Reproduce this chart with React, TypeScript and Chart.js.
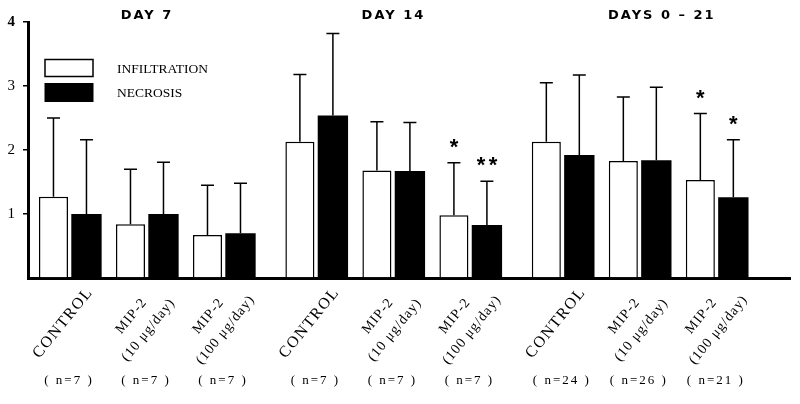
import React, { useEffect, useRef } from 'react';
import { Chart, registerables } from 'chart.js';

Chart.register(...registerables);

// ---------- data ----------
const groupTitles = ['DAY 7', 'DAY 14', 'DAYS 0 – 21'];
const categoryLabels: string[][] = [
  ['CONTROL'], ['MIP-2', '(10 μg/day)'], ['MIP-2', '(100 μg/day)'],
  ['CONTROL'], ['MIP-2', '(10 μg/day)'], ['MIP-2', '(100 μg/day)'],
  ['CONTROL'], ['MIP-2', '(10 μg/day)'], ['MIP-2', '(100 μg/day)'],
];
const nLabels = ['( n=7 )', '( n=7 )', '( n=7 )', '( n=7 )', '( n=7 )', '( n=7 )', '( n=24 )', '( n=26 )', '( n=21 )'];
const seriesLabels = ['INFILTRATION', 'NECROSIS'];
const infiltrationMean = [1.27, 0.84, 0.67, 2.13, 1.68, 0.98, 2.13, 1.83, 1.53];
const infiltrationSD = [1.23, 0.86, 0.78, 1.05, 0.76, 0.82, 0.92, 1.0, 1.04];
const necrosisMean = [1.0, 1.0, 0.7, 2.54, 1.67, 0.83, 1.92, 1.84, 1.26];
const necrosisSD = [1.16, 0.81, 0.78, 1.28, 0.76, 0.68, 1.25, 1.14, 0.9];
const infiltrationSig = ['', '', '', '', '', '*', '', '', '*'];
const necrosisSig = ['', '', '', '', '', '**', '', '', '*'];
const yTickValues = [1, 2, 3, 4];

// ---------- layout constants ----------
const PER_GROUP = 3;
const GROUP_STEP = 3.2;
const TITLE_SHIFT = [0, 0, 22];
const SERIF = '"Liberation Serif", "Times New Roman", serif';
const SANS = '"DejaVu Sans", sans-serif';

const pos = (i: number) => Math.floor(i / PER_GROUP) * GROUP_STEP + (i % PER_GROUP);

const means = [infiltrationMean, necrosisMean];
const sds = [infiltrationSD, necrosisSD];
const sigs = [infiltrationSig, necrosisSig];

const decorPlugin = {
  id: 'decor',
  afterDatasetsDraw(chart: any) {
    const ctx = chart.ctx as CanvasRenderingContext2D;
    const ys = chart.scales.y;
    ctx.save();
    for (let d = 0; d < 2; d++) {
      const meta = chart.getDatasetMeta(d);
      meta.data.forEach((bar: any, i: number) => {
        const top = ys.getPixelForValue(means[d][i] + sds[d][i]);
        ctx.strokeStyle = '#000';
        ctx.lineWidth = 1.5;
        ctx.beginPath();
        ctx.moveTo(bar.x, bar.y);
        ctx.lineTo(bar.x, top);
        ctx.moveTo(bar.x - 6.5, top);
        ctx.lineTo(bar.x + 6.5, top);
        ctx.stroke();
        const s = sigs[d][i];
        if (s) {
          ctx.fillStyle = '#000';
          ctx.font = `bold 22px "Liberation Sans", sans-serif`;
          ctx.textAlign = 'center';
          ctx.textBaseline = 'alphabetic';
          const chars = s.split('');
          chars.forEach((c, k) => {
            const off = (k - (chars.length - 1) / 2) * 12;
            ctx.fillText(c, bar.x + off, top - 9);
          });
        }
      });
    }
    ctx.restore();
  },
  afterDraw(chart: any) {
    const ctx = chart.ctx as CanvasRenderingContext2D;
    const xs = chart.scales.x;
    ctx.save();
    // legend
    ctx.lineWidth = 1.5;
    ctx.strokeStyle = '#000';
    ctx.fillStyle = '#fff';
    ctx.fillRect(45, 59.5, 48, 17);
    ctx.strokeRect(45, 59.5, 48, 17);
    ctx.fillStyle = '#000';
    ctx.fillRect(44.5, 83, 49, 19);
    ctx.font = `13.5px ${SERIF}`;
    ctx.textAlign = 'left';
    ctx.textBaseline = 'middle';
    ctx.fillText(seriesLabels[0], 117, 69);
    ctx.fillText(seriesLabels[1], 117, 93);

    // group titles
    ctx.font = `bold 13px ${SANS}`;
    (ctx as any).letterSpacing = '2px';
    ctx.textAlign = 'center';
    groupTitles.forEach((t, g) => {
      const cx = xs.getPixelForValue(pos(g * PER_GROUP + 1)) + TITLE_SHIFT[g];
      ctx.fillText(t, cx, 16);
    });

    // rotated category labels
    categoryLabels.forEach((lines, i) => {
      const px = xs.getPixelForValue(pos(i));
      ctx.save();
      ctx.translate(px - 7, 323);
      ctx.rotate((-51 * Math.PI) / 180);
      ctx.textAlign = 'center';
      ctx.textBaseline = 'middle';
      lines.forEach((ln, j) => {
        const single = lines.length === 1;
        ctx.font = single ? `16px ${SERIF}` : `14px ${SERIF}`;
        (ctx as any).letterSpacing = single ? '1.5px' : '1px';
        const y = (j - (lines.length - 1) / 2) * 22;
        ctx.fillText(ln, 0, y);
      });
      ctx.restore();
    });

    // n labels
    ctx.font = `13px ${SERIF}`;
    (ctx as any).letterSpacing = '2px';
    ctx.textAlign = 'center';
    ctx.textBaseline = 'middle';
    nLabels.forEach((t, i) => {
      const px = xs.getPixelForValue(pos(i));
      ctx.fillText(t, px - 1, 381);
    });
    ctx.restore();
  },
};

export default function App() {
  const ref = useRef<HTMLCanvasElement | null>(null);
  useEffect(() => {
    if (!ref.current) return;
    const chart = new Chart(ref.current, {
      type: 'bar',
      data: {
        datasets: [
          {
            label: seriesLabels[0],
            data: infiltrationMean.map((v, i) => ({ x: pos(i), y: v })),
            backgroundColor: '#fff',
            borderColor: '#000',
            borderWidth: 1.5,
            categoryPercentage: 0.857,
            barPercentage: 0.88,
          },
          {
            label: seriesLabels[1],
            data: necrosisMean.map((v, i) => ({ x: pos(i), y: v })),
            backgroundColor: '#000',
            borderColor: '#000',
            borderWidth: 0,
            categoryPercentage: 0.857,
            barPercentage: 0.92,
          },
        ] as any,
      },
      options: {
        responsive: false,
        animation: false,
        events: [],
        layout: { padding: { left: 0, top: 22, right: 10, bottom: 126 } },
        plugins: { legend: { display: false }, tooltip: { enabled: false } },
        scales: {
          x: {
            type: 'linear',
            offset: false,
            min: -0.545,
            max: 9.35,
            ticks: { display: false },
            grid: { display: false, drawTicks: false, offset: false },
            border: { display: true, width: 3, color: '#000' },
            afterFit: (s: any) => { s.height = 0; },
          },
          y: {
            min: 0,
            max: 4,
            afterBuildTicks: (s: any) => { s.ticks = [0, ...yTickValues].map((v) => ({ value: v })); },
            ticks: {
              color: '#000',
              padding: 8,
              callback: (v: any) => (v === 0 ? '' : String(v)),
              font: (c: any) => ({ family: SERIF, size: 15, weight: c.tick && c.tick.value === 4 ? 'bold' : 'normal' }),
            },
            grid: {
              drawOnChartArea: false,
              drawTicks: true,
              tickLength: 5,
              lineWidth: 1.5,
              color: (c: any) => (c.tick && c.tick.value === 0 ? 'rgba(0,0,0,0)' : '#000'),
            },
            border: { display: true, width: 3, color: '#000' },
            afterFit: (s: any) => { s.width = 28; },
          },
        },
      } as any,
      plugins: [decorPlugin],
    });
    return () => chart.destroy();
  }, []);
  return (
    <div style={{ position: 'fixed', left: 0, top: 0, width: 800, height: 404, background: '#fff' }}>
      <canvas ref={ref} width={800} height={404} />
    </div>
  );
}
